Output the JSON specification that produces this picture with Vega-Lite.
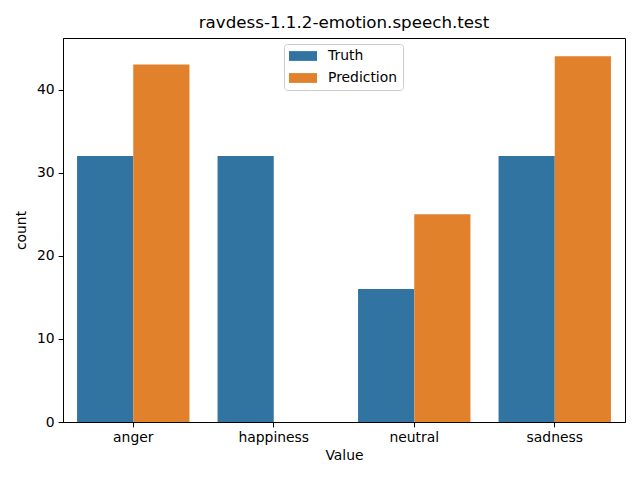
{
  "$schema": "https://vega.github.io/schema/vega-lite/v6.json",
  "width": 562,
  "height": 384,
  "autosize": {"type": "none"},
  "padding": {"left": 63, "top": 38, "right": 15, "bottom": 58},
  "background": "white",
  "title": {"text": "ravdess-1.1.2-emotion.speech.test", "font": "DejaVu Sans", "fontSize": 16.7, "fontWeight": "normal", "color": "black", "offset": 6},
  "config": {
    "font": "DejaVu Sans",
    "view": {"stroke": "black", "strokeWidth": 1},
    "axis": {"grid": false, "domainColor": "black", "tickColor": "black", "labelColor": "black", "titleColor": "black", "labelFontSize": 13.9, "titleFontSize": 13.9, "titleFontWeight": "normal", "tickSize": 4.9, "labelPadding": 4}
  },
  "data": {"values": [
    {"Value": "anger", "Source": "Truth", "count": 32},
    {"Value": "anger", "Source": "Prediction", "count": 43},
    {"Value": "happiness", "Source": "Truth", "count": 32},
    {"Value": "happiness", "Source": "Prediction", "count": 0},
    {"Value": "neutral", "Source": "Truth", "count": 16},
    {"Value": "neutral", "Source": "Prediction", "count": 25},
    {"Value": "sadness", "Source": "Truth", "count": 32},
    {"Value": "sadness", "Source": "Prediction", "count": 44}
  ]},
  "mark": {"type": "bar"},
  "encoding": {
    "x": {"field": "Value", "type": "nominal", "sort": ["anger", "happiness", "neutral", "sadness"],
      "scale": {"paddingInner": 0.2, "paddingOuter": 0.1},
      "axis": {"labelAngle": 0, "title": "Value", "titlePadding": 4}},
    "xOffset": {"field": "Source", "type": "nominal", "sort": ["Truth", "Prediction"], "scale": {"paddingInner": 0, "paddingOuter": 0}},
    "y": {"field": "count", "type": "quantitative", "scale": {"domain": [0, 46.2], "nice": false},
      "axis": {"values": [0, 10, 20, 30, 40], "title": "count", "titlePadding": 8}},
    "color": {"field": "Source", "type": "nominal", "sort": ["Truth", "Prediction"],
      "scale": {"domain": ["Truth", "Prediction"], "range": ["#3274a1", "#e1812c"]},
      "legend": {"title": null, "orient": "none", "legendX": 221, "legendY": 6,
        "symbolType": "M-1,-0.7H3V0.7H-1Z", "symbolSize": 196, "labelFontSize": 13.9, "labelColor": "black",
        "strokeColor": "#cccccc", "fillColor": "white", "cornerRadius": 3, "padding": 5, "rowPadding": 8,
        "symbolStrokeWidth": 0, "labelOffset": 25, "symbolOpacity": 1, "labelLimit": 200}}
  }
}
